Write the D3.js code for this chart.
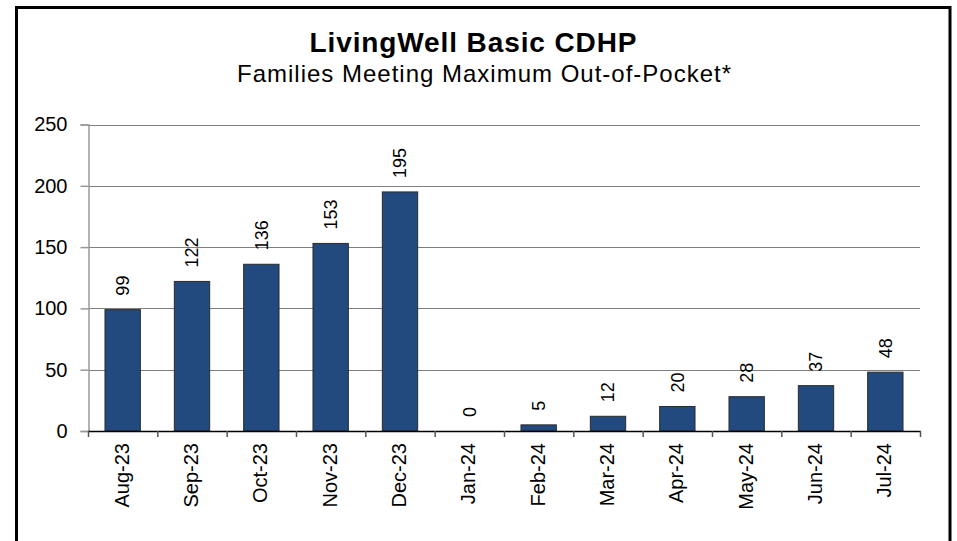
<!DOCTYPE html>
<meta charset="utf-8">
<style>
    body {
        margin: 0;
        background: #fff;
    }
    text {
        font-family: Arial, "Liberation Sans", sans-serif;
        fill: #000;
    }
</style>

<body>
    <script src="https://cdn.jsdelivr.net/npm/d3@7"></script>
    <script>
        var months = ['Aug-23', 'Sep-23', 'Oct-23', 'Nov-23', 'Dec-23', 'Jan-24',
            'Feb-24', 'Mar-24', 'Apr-24', 'May-24', 'Jun-24', 'Jul-24']
        var families = [99, 122, 136, 153, 195, 0, 5, 12, 20, 28, 37, 48]
        var yTicks = [0, 50, 100, 150, 200, 250]

        var title = 'LivingWell Basic CDHP'
        var subtitle = 'Families Meeting Maximum Out-of-Pocket*'

        var width = 957
        var height = 541
        var margin = { top: 124.5, right: 37, bottom: 110, left: 88 }

        var svg = d3.select('body')
            .append('svg')
            .attr('width', width)
            .attr('height', height)

        // outer frame
        svg.append('rect')
            .attr('x', 16.5)
            .attr('y', 7.5)
            .attr('width', 933.5)
            .attr('height', 545)
            .attr('fill', 'none')
            .attr('stroke', '#000')
            .attr('stroke-width', 3)

        svg.append('text')
            .attr('x', 473)
            .attr('y', 51.5)
            .attr('text-anchor', 'middle')
            .attr('textLength', 327)
            .style('font-size', '28px')
            .style('font-weight', 'bold')
            .text(title)

        svg.append('text')
            .attr('x', 484)
            .attr('y', 81.5)
            .attr('text-anchor', 'middle')
            .attr('textLength', 494)
            .style('font-size', '24px')
            .text(subtitle)

        var x = d3.scaleBand()
            .domain(months)
            .range([margin.left, 920])
            .paddingInner(0.49)
            .paddingOuter(0.245)

        var y = d3.scaleLinear()
            .domain([0, 250])
            .range([431, margin.top])

        // gridlines
        svg.append('g')
            .selectAll('line')
            .data(yTicks.slice(1))
            .enter().append('line')
            .attr('x1', margin.left)
            .attr('x2', 920)
            .attr('y1', function (d) { return Math.round(y(d)) + 0.5 })
            .attr('y2', function (d) { return Math.round(y(d)) + 0.5 })
            .attr('stroke', '#7f7f7f')
            .attr('stroke-width', 1.2)

        // y axis
        var yAxis = svg.append('g')
            .attr('transform', 'translate(' + (margin.left + 0.5) + ',0)')
            .call(d3.axisLeft(y).tickValues(yTicks).tickSize(8).tickPadding(13))
        yAxis.select('.domain').attr('stroke', '#999').attr('stroke-width', 1.5)
        yAxis.selectAll('.tick line').attr('stroke', '#999').attr('stroke-width', 1.5)
        yAxis.selectAll('.tick text')
            .style('font-size', '20px')
            .style('font-family', 'Arial, "Liberation Sans", sans-serif')
            .attr('fill', '#000')

        // bars
        svg.append('g')
            .selectAll('rect')
            .data(families)
            .enter().append('rect')
            .attr('x', function (d, i) { return x(months[i]) })
            .attr('y', function (d) { return y(d) })
            .attr('width', x.bandwidth())
            .attr('height', function (d) { return y(0) - y(d) })
            .attr('fill', '#224a7e')
            .attr('stroke', '#2b2b2b')
            .attr('stroke-width', 1)

        // x axis baseline with boundary ticks
        var xg = svg.append('g')
        xg.append('line')
            .attr('x1', margin.left)
            .attr('x2', 921)
            .attr('y1', 431.5)
            .attr('y2', 431.5)
            .attr('stroke', '#000')
            .attr('stroke-width', 1.5)
        xg.selectAll('.xtick')
            .data(d3.range(months.length + 1))
            .enter().append('line')
            .attr('class', 'xtick')
            .attr('x1', function (i) { return margin.left + 0.5 + i * (920 - margin.left) / months.length })
            .attr('x2', function (i) { return margin.left + 0.5 + i * (920 - margin.left) / months.length })
            .attr('y1', 431)
            .attr('y2', 437)
            .attr('stroke', '#555')
            .attr('stroke-width', 1.5)

        xg.selectAll('.xlabel')
            .data(months)
            .enter().append('text')
            .attr('class', 'xlabel')
            .attr('transform', function (d) {
                return 'translate(' + (x(d) + x.bandwidth() / 2 - 1) + ',443) rotate(-90)'
            })
            .attr('text-anchor', 'end')
            .attr('dy', '0.35em')
            .style('font-size', '20px')
            .text(function (d) { return d })

        // value labels
        svg.append('g')
            .selectAll('text')
            .data(families)
            .enter().append('text')
            .attr('transform', function (d, i) {
                return 'translate(' + (x(months[i]) + x.bandwidth() / 2) + ',' + (y(d) - 14) + ') rotate(-90)'
            })
            .attr('text-anchor', 'start')
            .attr('dy', '0.35em')
            .style('font-size', '18px')
            .text(function (d) { return d })
    </script>
</body>
